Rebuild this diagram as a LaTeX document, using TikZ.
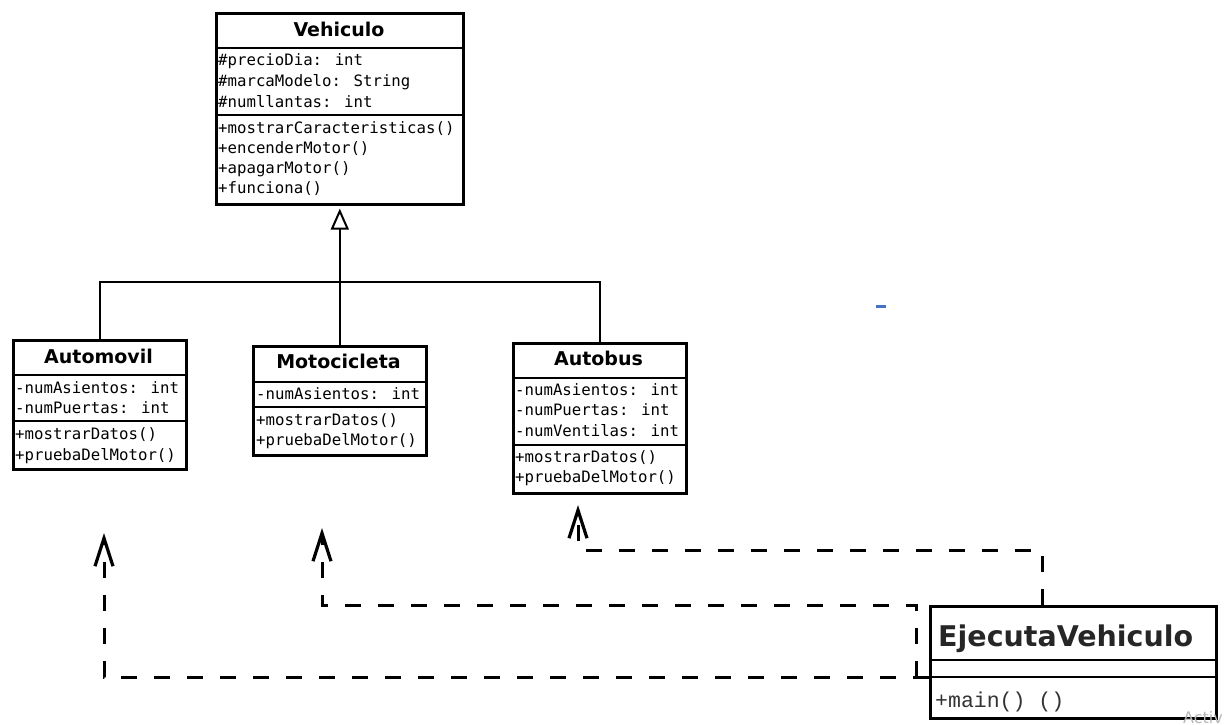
\documentclass[tikz,border=0pt]{standalone}
\usepackage{fontspec}
\setmainfont{DejaVu Sans}
\newfontfamily\umlmono{DejaVu Sans Mono}
\newfontfamily\umltitle{DejaVu Sans}
\newfontfamily\courmono{Liberation Mono}
\usetikzlibrary{arrows.meta}
\definecolor{dashblue}{HTML}{4472C4}
\definecolor{wmgray}{HTML}{B8B8B8}
\begin{document}
\begin{tikzpicture}[x=1pt,y=-1pt,
  box/.style={draw, line width=2.6pt, inner sep=0pt, anchor=north west},
  divline/.style={line width=2.2pt},
  ttl/.style={font=\umltitle\bfseries\fontsize{19}{22}\selectfont, anchor=base, inner sep=0pt},
  mem/.style={font=\umlmono\fontsize{15.7}{19}\selectfont, anchor=base west, inner sep=0pt},
  inh/.style={line width=2pt, -{Triangle[open, length=21pt, width=18pt, line width=2pt]}},
  tree/.style={line width=2pt},
  dep/.style={line width=3pt, dash pattern=on 16pt off 17pt, -{Straight Barb[length=28pt, width=18pt, line width=3.2pt]}}
]
\useasboundingbox (0,0) rectangle (1227,725);
\fill[white] (0,0) rectangle (1227,725);

% Vehiculo
\node[box, minimum width=247pt, minimum height=191pt] (veh) at (215,12) {};
\draw[divline] (veh.west |- 0,48) -- (veh.east |- 0,48);
\draw[divline] (veh.west |- 0,115) -- (veh.east |- 0,115);
\node[ttl, font=\umltitle\bfseries\fontsize{19}{22}\selectfont] (veh-t) at (339,37) {Vehiculo};
\node[mem] (veh-a1) at (218,66) {\#precioDia: int};
\node[mem] (veh-a2) at (218,87) {\#marcaModelo: String};
\node[mem] (veh-a3) at (218,107) {\#numllantas: int};
\node[mem] (veh-m1) at (218,133) {+mostrarCaracteristicas()};
\node[mem] (veh-m2) at (218,153) {+encenderMotor()};
\node[mem] (veh-m3) at (218,173) {+apagarMotor()};
\node[mem] (veh-m4) at (218,193) {+funciona()};

% Automovil
\node[box, minimum width=173pt, minimum height=129pt] (auto) at (12,339) {};
\draw[divline] (auto.west |- 0,375) -- (auto.east |- 0,375);
\draw[divline] (auto.west |- 0,421) -- (auto.east |- 0,421);
\node[ttl] (auto-t) at (98.5,363) {Automovil};
\node[mem] (auto-a1) at (15,393) {-numAsientos: int};
\node[mem] (auto-a2) at (15,413) {-numPuertas: int};
\node[mem] (auto-m1) at (15,439) {+mostrarDatos()};
\node[mem] (auto-m2) at (15,460) {+pruebaDelMotor()};

% Motocicleta
\node[box, minimum width=173pt, minimum height=109pt] (moto) at (252,345) {};
\draw[divline] (moto.west |- 0,382) -- (moto.east |- 0,382);
\draw[divline] (moto.west |- 0,407) -- (moto.east |- 0,407);
\node[ttl] (moto-t) at (338.5,368) {Motocicleta};
\node[mem] (moto-a1) at (256,399) {-numAsientos: int};
\node[mem] (moto-m1) at (256,425) {+mostrarDatos()};
\node[mem] (moto-m2) at (256,445) {+pruebaDelMotor()};

% Autobus
\node[box, minimum width=173pt, minimum height=150pt] (bus) at (512,342) {};
\draw[divline] (bus.west |- 0,378) -- (bus.east |- 0,378);
\draw[divline] (bus.west |- 0,445) -- (bus.east |- 0,445);
\node[ttl] (bus-t) at (598.5,365) {Autobus};
\node[mem] (bus-a1) at (515,395) {-numAsientos: int};
\node[mem] (bus-a2) at (515,415) {-numPuertas: int};
\node[mem] (bus-a3) at (515,436) {-numVentilas: int};
\node[mem] (bus-m1) at (515,462) {+mostrarDatos()};
\node[mem] (bus-m2) at (515,482) {+pruebaDelMotor()};

% EjecutaVehiculo
\node[box, minimum width=286pt, minimum height=112pt] (ej) at (929,605) {};
\draw[divline] (ej.west |- 0,660) -- (ej.east |- 0,660);
\draw[divline] (ej.west |- 0,677) -- (ej.east |- 0,677);
\node[anchor=base west, inner sep=0pt, text=black!85, font=\umltitle\bfseries\fontsize{28.5}{32}\selectfont] (ej-t) at (938,646) {EjecutaVehiculo};
\node[anchor=base west, inner sep=0pt, text=black!80, font=\courmono\fontsize{21.5}{24}\selectfont] (ej-m1) at (935,707) {+main() ()};

% Inheritance
\coordinate (bar) at (339,282);
\draw[inh, shorten >=3pt] (moto.north) -- (veh.south);
\draw[tree] (auto.north) |- (bar) -| (bus.north);

% Dependencies
\coordinate (d1) at (104,533);
\coordinate (d2) at (322,528);
\coordinate (d3) at (578,505);
\coordinate (j2) at (916,677);
\coordinate (k3) at (1042,550);
\draw[dep] (ej.west |- 0,677) -| (d1);
\draw[dep] (j2) -- (j2 |- ej.north) -| (d2);
\draw[dep] (ej.north -| k3) -- (k3) -| (d3);

% small blue mark
\fill[dashblue] (876,305) rectangle (886,308);

% watermark
\node[anchor=base west, inner sep=0pt, text=wmgray, font=\umltitle\fontsize{16}{20}\selectfont] (wm) at (1183,723) {Activ};
\end{tikzpicture}
\end{document}
